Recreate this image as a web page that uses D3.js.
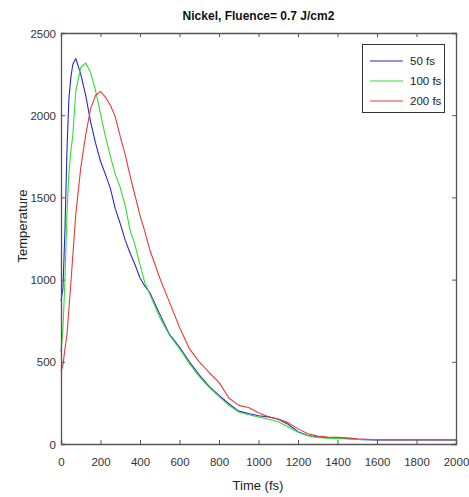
<!DOCTYPE html>
<html>
<head>
<meta charset="utf-8">
<script src="https://cdn.jsdelivr.net/npm/d3@7/dist/d3.min.js"></script>
<style>
  html, body { margin: 0; padding: 0; background: #fff; }
  svg { display: block; font-family: "Liberation Sans", Arial, sans-serif; }
</style>
</head>
<body>
<svg id="chart" width="469" height="497"></svg>
<script>
// Time samples (fs)
const time = [0, 10, 20, 30, 40, 50, 60, 75, 100, 125, 150, 175, 200, 225, 250, 275, 300, 325, 350, 375,
  400, 425, 450, 500, 550, 600, 650, 700, 750, 800, 850, 900, 950, 1000, 1050, 1100, 1150, 1200,
  1250, 1300, 1350, 1400, 1450, 1500, 1600, 1700, 1800, 1900, 2000];

// Lattice temperature for each pulse duration
const temp50 = [870, 950, 1300, 1780, 2100, 2230, 2310, 2345, 2250, 2120, 1960, 1830, 1720, 1640, 1555, 1430, 1340, 1240, 1160, 1090,
  1010, 960, 920, 790, 665, 590, 500, 420, 350, 295, 245, 200, 185, 172, 165, 150, 120, 75,
  52, 42, 38, 36, 33, 28, 25, 25, 25, 25, 25];
const temp100 = [560, 700, 1000, 1400, 1650, 1780, 1880, 2150, 2290, 2318, 2260, 2150, 2010, 1870, 1750, 1640, 1560, 1450, 1300, 1210,
  1090, 980, 910, 770, 660, 580, 490, 410, 345, 290, 235, 195, 178, 165, 150, 135, 105, 72,
  50, 40, 36, 34, 31, 28, 25, 25, 25, 25, 25];
const temp200 = [440, 480, 580, 660, 820, 980, 1150, 1400, 1680, 1880, 2040, 2120, 2145, 2110, 2060, 1990, 1870, 1760, 1630, 1510,
  1390, 1290, 1180, 1010, 860, 710, 580, 500, 435, 375, 280, 235, 222, 190, 166, 152, 130, 92,
  62, 48, 43, 40, 37, 32, 25, 25, 25, 25, 25];

const seriesNames = ["50 fs", "100 fs", "200 fs"];
const seriesValues = [temp50, temp100, temp200];
const seriesColors = ["#2a2ac8", "#33dd33", "#e83a3a"];

const xTicks = [0, 200, 400, 600, 800, 1000, 1200, 1400, 1600, 1800, 2000];
const yTicks = [0, 500, 1000, 1500, 2000, 2500];

const svg = d3.select("#chart");
const m = { left: 61, right: 456, top: 33, bottom: 444 };

const x = d3.scaleLinear().domain([0, 2000]).range([m.left, m.right]);
const y = d3.scaleLinear().domain([0, 2500]).range([m.bottom, m.top]);

const axisColor = "#555";
const textColor = "#333";

// Gradient so the flat tail reads as the overlapped (magenta) trace
const defs = svg.append("defs");
const grad = defs.append("linearGradient").attr("id", "tail")
  .attr("gradientUnits", "userSpaceOnUse")
  .attr("x1", x(0)).attr("x2", x(2000)).attr("y1", 0).attr("y2", 0);
const off = (x(1500) - x(0)) / (x(2000) - x(0));
grad.append("stop").attr("offset", off).attr("stop-color", seriesColors[2]);
grad.append("stop").attr("offset", off).attr("stop-color", "#c83cc8");
grad.append("stop").attr("offset", 1).attr("stop-color", "#c83cc8");

// Lines
const line = d3.line().x((d, i) => x(time[i])).y(d => y(d));
seriesValues.forEach((vals, k) => {
  svg.append("path")
    .datum(vals)
    .attr("d", line)
    .attr("fill", "none")
    .attr("stroke", k === 2 ? "url(#tail)" : seriesColors[k])
    .attr("stroke-width", 1.1)
    .attr("stroke-linejoin", "round");
});

// Axes (ticks pointing inward, mirrored on top and right)
const tickLen = 4;
const gx = svg.append("g").attr("transform", `translate(0,${m.bottom})`)
  .call(d3.axisBottom(x).tickValues(xTicks).tickSize(-tickLen).tickPadding(14).tickFormat(d3.format("d")));
const gxTop = svg.append("g").attr("transform", `translate(0,${m.top})`)
  .call(d3.axisTop(x).tickValues(xTicks).tickSize(-tickLen).tickFormat(""));
const gy = svg.append("g").attr("transform", `translate(${m.left},0)`)
  .call(d3.axisLeft(y).tickValues(yTicks).tickSize(-tickLen).tickPadding(5).tickFormat(d3.format("d")));
const gyRight = svg.append("g").attr("transform", `translate(${m.right},0)`)
  .call(d3.axisRight(y).tickValues(yTicks).tickSize(-tickLen).tickFormat(""));

[gx, gxTop, gy, gyRight].forEach(g => {
  g.selectAll("path.domain").attr("stroke", axisColor).attr("stroke-width", 1.3);
  g.selectAll("line").attr("stroke", axisColor);
  g.selectAll("text").attr("fill", textColor).style("font-size", "11.5px")
    .style("font-family", "'Liberation Sans', Arial, sans-serif");
});
gy.selectAll("text").attr("dy", "0.35em");

// Title and axis labels
svg.append("text")
  .attr("x", (m.left + m.right) / 2).attr("y", 20)
  .attr("text-anchor", "middle")
  .attr("font-weight", "bold").attr("font-size", 12).attr("fill", "#111")
  .text("Nickel, Fluence= 0.7 J/cm2");

svg.append("text")
  .attr("x", 258).attr("y", 490)
  .attr("text-anchor", "middle")
  .attr("font-size", 13).attr("fill", "#222")
  .text("Time (fs)");

svg.append("text")
  .attr("transform", `translate(22,226) rotate(-90)`)
  .attr("text-anchor", "middle").attr("dy", "0.35em")
  .attr("font-size", 13).attr("fill", "#222")
  .text("Temperature");

// Legend
const lg = svg.append("g");
lg.append("rect")
  .attr("x", 362.5).attr("y", 44.5).attr("width", 82).attr("height", 68)
  .attr("fill", "#fff").attr("stroke", "#333").attr("stroke-width", 1);
seriesNames.forEach((name, k) => {
  const yy = 61 + k * 20;
  lg.append("line")
    .attr("x1", 370).attr("x2", 403).attr("y1", yy).attr("y2", yy)
    .attr("stroke", seriesColors[k]).attr("stroke-width", 1.1);
  lg.append("text")
    .attr("x", 410).attr("y", yy).attr("dy", "0.35em")
    .attr("font-size", 11.5).attr("fill", "#222")
    .text(name);
});
</script>
</body>
</html>
